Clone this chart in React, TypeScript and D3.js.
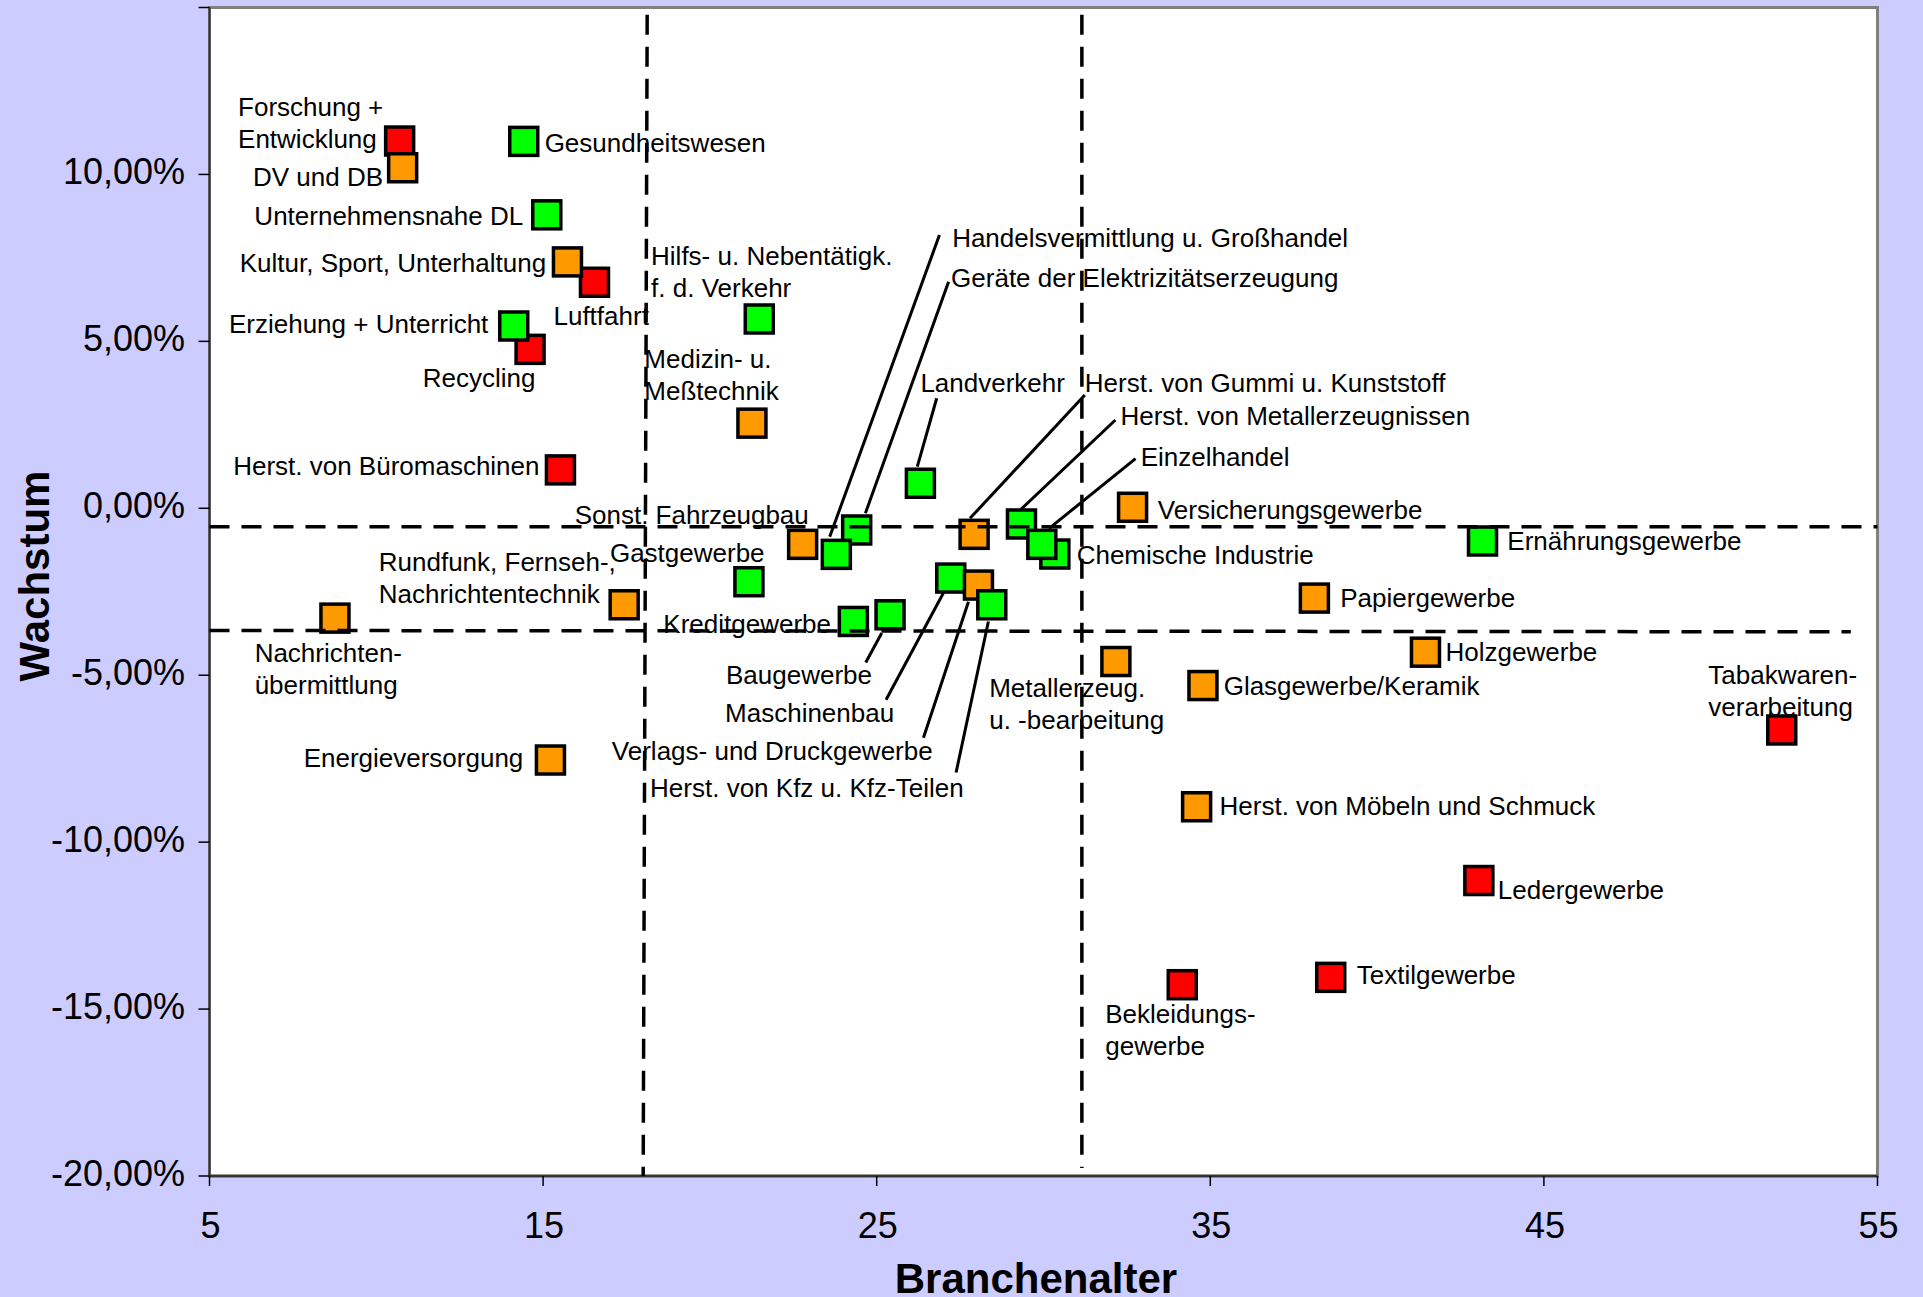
import React from 'react';
import * as d3 from 'd3';

// ---------- data ----------
const branchen: string[] = [
  'Forschung +\nEntwicklung',
  'Luftfahrt',
  'Recycling',
  'Herst. von Büromaschinen',
  'Tabakwaren-\nverarbeitung',
  'Ledergewerbe',
  'Textilgewerbe',
  'Bekleidungs-\ngewerbe',
  'Maschinenbau',
  'DV und DB',
  'Kultur, Sport, Unterhaltung',
  'Medizin- u.\nMeßtechnik',
  'Versicherungsgewerbe',
  'Sonst. Fahrzeugbau',
  'Rundfunk, Fernseh-,\nNachrichtentechnik',
  'Nachrichten-\nübermittlung',
  'Verlags- und Druckgewerbe',
  'Herst. von Gummi u. Kunststoff',
  'Metallerzeug.\nu. -bearbeitung',
  'Glasgewerbe/Keramik',
  'Papiergewerbe',
  'Holzgewerbe',
  'Energieversorgung',
  'Herst. von Möbeln und Schmuck',
  'Gesundheitswesen',
  'Unternehmensnahe DL',
  'Erziehung + Unterricht',
  'Hilfs- u. Nebentätigk.\nf. d. Verkehr',
  'Landverkehr',
  'Ernährungsgewerbe',
  'Geräte der Elektrizitätserzeugung',
  'Handelsvermittlung u. Großhandel',
  'Gastgewerbe',
  'Kreditgewerbe',
  'Baugewerbe',
  'Herst. von Kfz u. Kfz-Teilen',
  'Herst. von Metallerzeugnissen',
  'Chemische Industrie',
  'Einzelhandel',
];

// Branchenalter (x)
const branchenalter: number[] = [
  10.70, 16.54, 14.61, 15.52, 52.13, 43.05, 38.61, 34.16,
  27.22,
  10.79, 15.73, 21.26, 32.67, 22.78, 17.43, 8.76, 28.05, 27.92, 32.17, 34.78, 38.12, 41.45, 15.22, 34.59,
  14.42, 15.11, 14.12, 21.48, 26.31, 43.16, 24.40, 23.79, 21.17, 24.30, 25.40, 28.45, 29.34, 30.34, 29.95,
];

// Wachstum in % (y)
const wachstum: number[] = [
  11.00, 6.77, 4.76, 1.15, -6.64, -11.15, -14.05, -14.27,
  -2.09,
  10.20, 7.38, 2.55, 0.03, -1.08, -2.89, -3.29, -2.30, -0.78, -4.59, -5.31, -2.69, -4.31, -7.54, -8.94,
  10.99, 8.79, 5.46, 5.67, 0.75, -0.98, -0.65, -1.38, -2.20, -3.39, -3.19, -2.89, -0.47, -1.37, -1.08,
];

// Klasse (Farbe)
const klasse: string[] = [
  'rot', 'rot', 'rot', 'rot', 'rot', 'rot', 'rot', 'rot',
  'gruen',
  'orange', 'orange', 'orange', 'orange', 'orange', 'orange', 'orange', 'orange', 'orange', 'orange', 'orange', 'orange', 'orange', 'orange', 'orange',
  'gruen', 'gruen', 'gruen', 'gruen', 'gruen', 'gruen', 'gruen', 'gruen', 'gruen', 'gruen', 'gruen', 'gruen', 'gruen', 'gruen', 'gruen',
];

const xTicks: number[] = [5, 15, 25, 35, 45, 55];
const yTicks: number[] = [15, 10, 5, 0, -5, -10, -15, -20];
const yTicksLabelled: number[] = [10, 5, 0, -5, -10, -15, -20];

// Dashed reference lines (data units)
const refX1: number[] = [5, 5, 18.12, 31.15];
const refY1: number[] = [-0.55, -3.66, 14.78, 14.78];
const refX2: number[] = [55, 54.2, 18.0, 31.15];
const refY2: number[] = [-0.55, -3.70, -20, -19.76];

// ---------- layout (pixels, relative to marker centre) ----------
type Lay = { dx: number; dy: number; leader?: [number, number, number, number] };
const labelLayout: Lay[] = [
  { dx: -161.6, dy: -25 },
  { dx: -41, dy: 42.4 },
  { dx: -107.3, dy: 37.4 },
  { dx: -327.3, dy: 5.3 },
  { dx: -73.4, dy: -46.4 },
  { dx: 19, dy: 18 },
  { dx: 26, dy: 6.3 },
  { dx: -77, dy: 38.6 },
  { dx: -225.7, dy: 143.7, leader: [-7.4, 15, -64.7, 121.7] },
  { dx: -149.7, dy: 18.3 },
  { dx: -327.7, dy: 10.6 },
  { dx: -107.6, dy: -54.7 },
  { dx: 25.3, dy: 11.3 },
  { dx: -228, dy: -20.7 },
  { dx: -245.4, dy: -33.7 },
  { dx: -80.3, dy: 44.3 },
  { dx: -366.6, dy: 175.3, leader: [-10, 16.7, -55, 152.7] },
  { dx: 110.7, dy: -142.3, leader: [110.7, -139.3, -4.1, -16] },
  { dx: -126.7, dy: 35.3 },
  { dx: 20.7, dy: 9.6 },
  { dx: 25.9, dy: 8.7 },
  { dx: 20.1, dy: 9 },
  { dx: -246.8, dy: 7 },
  { dx: 22.9, dy: 7.9 },
  { dx: 20.9, dy: 10.7 },
  { dx: -292.4, dy: 10.3 },
  { dx: -284.8, dy: 6.6 },
  { dx: -108.2, dy: -54.4 },
  { dx: 0, dy: -91.3, leader: [16.3, -85, -3.1, -16.6] },
  { dx: 24.8, dy: 9.3 },
  { dx: 94.4, dy: -243, leader: [91.9, -248.3, 8.7, -16.7] },
  { dx: 115.8, dy: -307.3, leader: [103.1, -319.3, -6.6, -17.6] },
  { dx: -139, dy: -19.7 },
  { dx: -190, dy: 11.9 },
  { dx: -164, dy: 69.6, leader: [-8.3, 18.3, -24.3, 47.7] },
  { dx: -341.7, dy: 192, leader: [-3.4, 16.7, -35.7, 167.7] },
  { dx: 99, dy: -98.7, leader: [93.9, -104, -0.5, -14.7] },
  { dx: 21.8, dy: 9.6 },
  { dx: 98.8, dy: -78.7, leader: [93.7, -85.7, 7, -15.7] },
];

const W = 1923;
const H = 1297;
const FONT = '"Liberation Sans", Arial, Helvetica, sans-serif';
const colour: Record<string, string> = { rot: '#FF0000', orange: '#FF9900', gruen: '#00FF00' };

const deLocale = d3.formatLocale({
  decimal: ',',
  thousands: '.',
  grouping: [3],
  currency: ['', '€'],
  minus: '-',
});
const fmtPct = (v: number) => deLocale.format('.2f')(v) + '%';

export default function App() {
  const x = d3.scaleLinear().domain([5, 55]).range([209.5, 1877.5]);
  const y = d3.scaleLinear().domain([-20, 15]).range([1176, 7.5]);
  const [x0, x1] = x.range();
  const [yb, yt] = y.range();
  const size = 28;
  const lineH = 32;

  const pts = branchen.map((name, i) => ({
    name,
    px: x(branchenalter[i]),
    py: y(wachstum[i]),
    fill: colour[klasse[i]],
    lay: labelLayout[i],
  }));

  return (
    <svg
      width={W}
      height={H}
      style={{ position: 'absolute', left: 0, top: 0, display: 'block' }}
      fontFamily={FONT}
    >
      <rect x={0} y={0} width={W} height={H} fill="#CCCCFF" />
      {/* plot area */}
      <rect x={x0} y={yt} width={x1 - x0} height={yb - yt} fill="#FFFFFF" stroke="#808080" strokeWidth={3} />
      {/* axis lines */}
      <line x1={x0} y1={yt} x2={x0} y2={yb} stroke="#333" strokeWidth={2} />
      <line x1={x0} y1={yb} x2={x1} y2={yb} stroke="#333" strokeWidth={2.5} />

      {/* y ticks */}
      {yTicks.map((t) => (
        <line key={'yt' + t} x1={x0 - 11} x2={x0} y1={y(t)} y2={y(t)} stroke="#000" strokeWidth={1.5} />
      ))}
      {yTicksLabelled.map((t) => (
        <text key={'yl' + t} x={185} y={y(t) + 10} textAnchor="end" fontSize={36} fill="#000">
          {fmtPct(t)}
        </text>
      ))}
      {/* x ticks */}
      {xTicks.map((t) => (
        <g key={'xt' + t}>
          <line x1={x(t)} x2={x(t)} y1={yb} y2={yb + 10} stroke="#000" strokeWidth={1.5} />
          <text x={x(t) + 1} y={1238} textAnchor="middle" fontSize={36} fill="#000">
            {t}
          </text>
        </g>
      ))}

      {/* axis titles */}
      <text x={1036} y={1293} textAnchor="middle" fontSize={42} fontWeight="bold" fill="#000">
        Branchenalter
      </text>
      <text
        transform={`translate(49,576) rotate(-90)`}
        textAnchor="middle"
        fontSize={42}
        fontWeight="bold"
        fill="#000"
      >
        Wachstum
      </text>

      {/* labels */}
      {pts.map((p, i) => (
        <text key={'lb' + i} fontSize={26} fill="#000">
          {p.name.split('\n').map((ln, k) => (
            <tspan key={k} x={p.px + p.lay.dx} y={p.py + p.lay.dy + k * lineH}>
              {ln}
            </tspan>
          ))}
        </text>
      ))}
      {/* leader lines */}
      {pts.map((p, i) =>
        p.lay.leader ? (
          <line
            key={'ld' + i}
            x1={p.px + p.lay.leader[0]}
            y1={p.py + p.lay.leader[1]}
            x2={p.px + p.lay.leader[2]}
            y2={p.py + p.lay.leader[3]}
            stroke="#000"
            strokeWidth={3}
          />
        ) : null
      )}
      {/* markers */}
      {pts.map((p, i) => (
        <rect
          key={'mk' + i}
          x={p.px - size / 2}
          y={p.py - size / 2}
          width={size}
          height={size}
          fill={p.fill}
          stroke="#000"
          strokeWidth={3.5}
        />
      ))}
      {/* dashed reference lines */}
      {refX1.map((_, i) => (
        <line
          key={'rf' + i}
          x1={x(refX1[i])}
          y1={y(refY1[i])}
          x2={x(refX2[i])}
          y2={y(refY2[i])}
          stroke="#000"
          strokeWidth={3.5}
          strokeDasharray="20,12"
        />
      ))}
    </svg>
  );
}
